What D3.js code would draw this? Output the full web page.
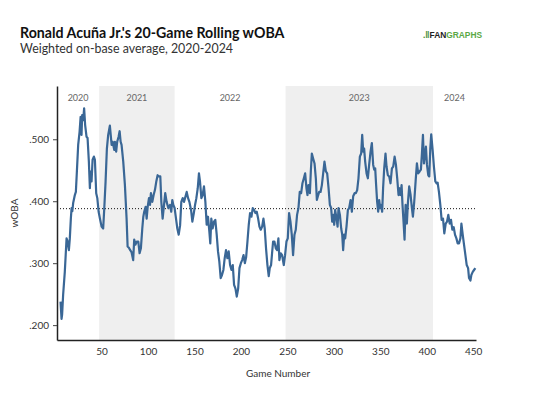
<!DOCTYPE html>
<html lang="en">
<head>
  <meta charset="utf-8">
  <title>Ronald Acuña Jr.'s 20-Game Rolling wOBA</title>
  <script src="https://d3js.org/d3.v7.min.js"></script>
  <style>
    body { margin: 0; background: #fff; }
    svg { font-family: Lato, "Open Sans", sans-serif; }
  </style>
</head>
<body>
<div class="chart"></div>

<script type="text/javascript">

// rolling wOBA (game number, value)
var games = [5.8, 6.9, 7.5, 8.6, 10.4, 12.3, 13.4, 14.8, 15.8, 16.9, 17.7, 18.5, 19.4, 21.2, 22.3, 23.4, 24.8, 26.3, 27.4, 28.4,
  29.1, 30.2, 31.2, 32.3, 33.8, 34.9, 36.3, 37.4, 38.1, 39.2, 40.3, 41.7, 42.8, 44.2, 45.4, 46.8, 48.2, 50, 51.7, 52.8,
  54.3, 55.7, 57.1, 58.9, 60.8, 61.9, 63.6, 64.3, 65.7, 66.8, 68.3, 69.4, 70.5, 71.5, 73.3, 75.1, 76.9, 78, 79.4, 80.8,
  82.2, 84, 85.1, 86.5, 87.9, 89.5, 90.9, 92.3, 93.8, 94.9, 95.9, 97.4, 98.5, 99.6, 101, 102.1, 103.1, 104.6, 106, 107.4,
  108.9, 110.3, 111.8, 113.2, 114.3, 115.7, 117.2, 118.5, 120, 121.8, 123.6, 125, 126.1, 127.2, 128.6, 130.1, 131.5, 133, 134.5, 135.8,
  137.3, 138.7, 140.2, 141.6, 143.1, 144.5, 146.3, 147.7, 149.2, 150.6, 152, 153.5, 154.8, 155.9, 157.4, 158.8, 160.2, 161.7, 163.1, 164.5,
  166, 167, 168.1, 169.5, 171, 172.4, 173.9, 175.3, 176.7, 178.2, 179.6, 181.1, 182.5, 183.9, 185.4, 186.8, 188.3, 189.8, 191.2, 192.6,
  194.1, 195.5, 197, 198.4, 199.9, 201.3, 202.8, 204.2, 205.6, 207, 208.4, 209.8, 211.3, 212.7, 214.1, 215.6, 217, 218.5, 219.9, 221.3,
  222.8, 224.2, 225.6, 227, 228.5, 229.9, 231, 232.4, 234.6, 236, 237.5, 238.9, 240.3, 241.4, 242.8, 244.3, 246.1, 247.5, 249, 250.4,
  251.8, 253.3, 254.7, 256.1, 257.6, 259, 260.4, 261.9, 263.3, 264.8, 266.2, 267.7, 269.1, 270.5, 271.6, 272.7, 274.2, 275.2, 276.3, 277.7,
  279.2, 280.6, 281.7, 282.8, 284.2, 285.7, 287.1, 288.5, 289.9, 291.4, 292.8, 294.3, 295.7, 297.1, 298.2, 299.3, 300.4, 301.4, 302.9, 304,
  305, 306.5, 307.9, 309, 310, 311.1, 312.2, 313.6, 315.1, 316.5, 318, 319.4, 320.8, 322.3, 323.7, 325.1, 326.5, 328, 329.4, 330.5,
  331.6, 332.6, 333.7, 335.2, 336.6, 338, 339.5, 340.9, 342.3, 343.4, 344.5, 345.5, 346.6, 347.7, 348.8, 349.8, 350.9, 352, 353, 354.2,
  355.6, 356.7, 358.1, 359.6, 361, 362.5, 363.9, 365.4, 366.8, 368.2, 369.6, 370.7, 371.8, 372.9, 373.9, 375, 376.1, 377.2, 378.6, 379.7,
  381.1, 382.6, 384, 385.1, 386.5, 388, 389.4, 390.8, 392.3, 393.7, 394.8, 395.9, 397, 398, 399.1, 400.2, 401.6, 402.7, 403.8, 404.8,
  406.3, 407.7, 409.2, 410.6, 411.7, 413.1, 414.6, 416, 417.5, 418.9, 420.4, 421.8, 423.2, 424.7, 426.1, 427.5, 429, 430.4, 431.9, 433.3,
  434.7, 436.2, 437.3, 438.7, 440.1, 441.6, 443, 444.5, 445.5, 447, 448, 449.5, 450.9, 452.3];

var woba = [.238, .210, .217, .249, .286, .340, .335, .321, .340, .372, .389, .384, .397, .410, .415, .448, .491, .512, .536, .507,
  .539, .531, .550, .523, .504, .502, .464, .421, .448, .432, .467, .472, .467, .413, .405, .383, .372, .359, .356, .386,
  .432, .485, .507, .522, .491, .496, .483, .496, .480, .496, .504, .513, .496, .491, .464, .426, .372, .327, .325, .321,
  .318, .305, .338, .330, .335, .335, .316, .324, .356, .375, .383, .391, .372, .391, .405, .394, .413, .399, .410, .418,
  .432, .442, .440, .440, .399, .372, .394, .413, .399, .389, .394, .383, .402, .394, .389, .372, .356, .346, .361, .399,
  .405, .399, .407, .415, .405, .399, .386, .367, .380, .394, .405, .421, .445, .432, .405, .410, .424, .399, .362, .375,
  .351, .332, .372, .356, .367, .370, .346, .319, .303, .276, .281, .289, .308, .321, .308, .319, .297, .289, .297, .265,
  .259, .246, .259, .292, .300, .305, .313, .300, .310, .335, .362, .381, .375, .389, .386, .381, .383, .372, .359, .354,
  .359, .372, .356, .324, .297, .279, .292, .297, .335, .335, .324, .321, .340, .305, .316, .313, .297, .313, .335, .340,
  .381, .367, .346, .313, .346, .354, .378, .389, .415, .413, .429, .437, .445, .421, .410, .426, .413, .448, .477, .469,
  .461, .437, .402, .408, .415, .415, .426, .445, .464, .448, .445, .421, .394, .389, .367, .378, .362, .386, .372, .359,
  .389, .378, .356, .346, .321, .346, .340, .359, .386, .389, .402, .383, .408, .413, .413, .418, .437, .472, .477, .507,
  .480, .485, .464, .445, .437, .459, .480, .494, .459, .451, .453, .426, .399, .383, .402, .389, .394, .383, .421, .453,
  .477, .456, .442, .440, .429, .453, .456, .472, .459, .437, .410, .421, .410, .426, .394, .367, .338, .394, .364, .397,
  .424, .410, .389, .375, .399, .432, .461, .445, .448, .451, .477, .507, .461, .475, .488, .459, .442, .440, .485, .508,
  .483, .456, .432, .429, .430, .415, .394, .370, .372, .348, .364, .367, .378, .364, .370, .354, .358, .346, .340, .332,
  .332, .340, .364, .346, .330, .313, .297, .292, .276, .272, .281, .286, .289, .292];

var seasons = ["2020", "2021", "2022", "2023", "2024"];
var seasonStart = [2, 47.4, 128.6, 248, 406.7];
var seasonEnd = [47.4, 128.6, 248, 406.7, 453];
var shaded = [false, true, false, true, false];

var careerAvg = .388;

var yTicks = [.200, .300, .400, .500];
var xTicks = [50, 100, 150, 200, 250, 300, 350, 400, 450];

var width = 534,
    height = 396;

var svg = d3.select(".chart").append("svg")
    .attr("width", width)
    .attr("height", height);

var x = d3.scaleLinear().domain([2, 453]).range([57, 476]);
var y = d3.scaleLinear().domain([.176, .586]).range([340, 86]);

// season bands
svg.selectAll("rect.season")
  .data(seasons)
  .enter()
  .append("rect")
  .attr("class", "season")
  .attr("x", function(d, i) { return x(seasonStart[i]); })
  .attr("y", y.range()[1])
  .attr("width", function(d, i) { return x(seasonEnd[i]) - x(seasonStart[i]); })
  .attr("height", y.range()[0] - y.range()[1])
  .style("fill", function(d, i) { return shaded[i] ? "#efefef" : "none"; });

svg.selectAll("text.season")
  .data(seasons)
  .enter()
  .append("text")
  .attr("class", "season")
  .attr("x", function(d, i) { return x((seasonStart[i] + seasonEnd[i]) / 2); })
  .attr("y", 101)
  .attr("text-anchor", "middle")
  .style("font-size", "9px")
  .style("fill", "#666")
  .text(function(d) { return d; });

// career average
svg.append("line")
  .attr("x1", x.range()[0])
  .attr("x2", x.range()[1])
  .attr("y1", y(careerAvg))
  .attr("y2", y(careerAvg))
  .style("stroke", "#111")
  .style("stroke-width", 1)
  .style("stroke-dasharray", "1,2");

var line = d3.line()
    .x(function(d, i) { return x(games[i]); })
    .y(function(d) { return y(d); });

svg.append("path")
  .datum(woba)
  .attr("d", line)
  .style("fill", "none")
  .style("stroke", "#3a6796")
  .style("stroke-width", 2.2)
  .style("stroke-linejoin", "round");

// axes
var fmt = function(d) { return d3.format(".3f")(d).replace(/^0/, ""); };

var yAxis = svg.append("g")
  .attr("transform", "translate(" + x.range()[0] + ",0)")
  .call(d3.axisLeft(y).tickValues(yTicks).tickFormat(fmt).tickSize(4).tickSizeOuter(0).tickPadding(4));

var xAxis = svg.append("g")
  .attr("transform", "translate(0," + y.range()[0] + ")")
  .call(d3.axisBottom(x).tickValues(xTicks).tickSize(0).tickPadding(8));

[xAxis, yAxis].forEach(function(g) {
  g.select(".domain").style("stroke", "#222").style("stroke-width", 1.5);
  g.selectAll(".tick line").style("stroke", "#444");
  g.selectAll("text").style("font-family", "Lato, sans-serif").style("font-size", "10px").style("fill", "#333");
});

svg.append("text")
  .attr("x", 278)
  .attr("y", 377)
  .attr("text-anchor", "middle")
  .style("font-size", "10px")
  .style("fill", "#333")
  .text("Game Number");

svg.append("text")
  .attr("transform", "translate(18,213) rotate(-90)")
  .attr("text-anchor", "middle")
  .style("font-size", "10px")
  .style("fill", "#333")
  .text("wOBA");

// titles
svg.append("text")
  .attr("x", 20)
  .attr("y", 38)
  .style("font-size", "14.2px")
  .style("font-weight", "bold")
  .style("fill", "#111")
  .text("Ronald Acuña Jr.'s 20-Game Rolling wOBA");

svg.append("text")
  .attr("x", 20)
  .attr("y", 53)
  .style("font-size", "12.4px")
  .style("fill", "#333")
  .text("Weighted on-base average, 2020-2024");

// logo
var logo = svg.append("text")
  .attr("x", 423)
  .attr("y", 38)
  .style("font-size", "8.4px")
  .style("font-weight", "bold")
  .style("font-family", "Arial, 'Liberation Sans', sans-serif");
logo.append("tspan").style("fill", "#3b8a2f").text(".ǁ");
logo.append("tspan").style("fill", "#222").text("FAN");
logo.append("tspan").style("fill", "#5aa845").text("GRAPHS");

</script>
</body>
</html>
